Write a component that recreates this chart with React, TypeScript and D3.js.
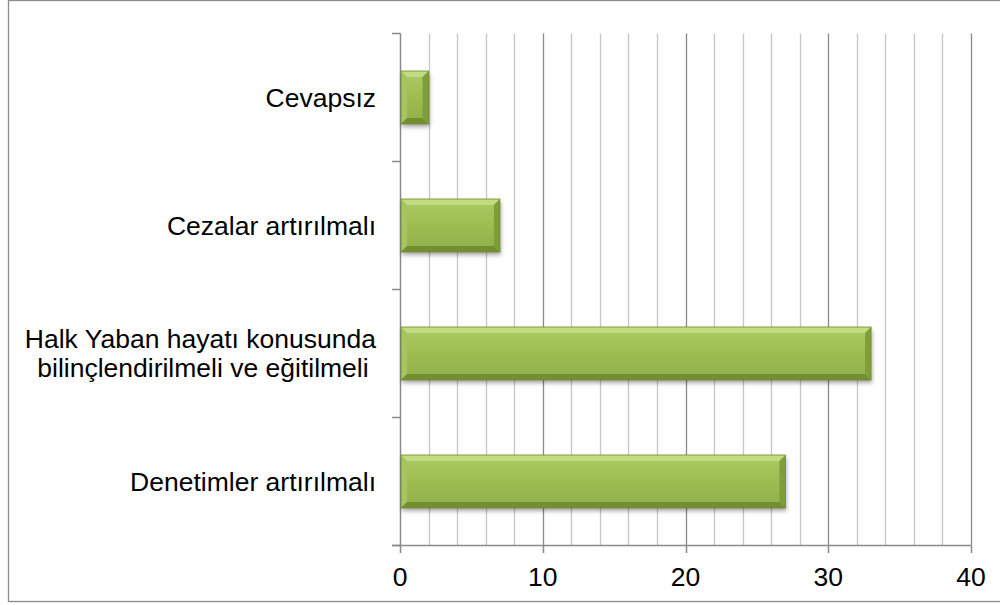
import React from "react";
import * as d3 from "d3";

const categories = [
  "Cevapsız",
  "Cezalar artırılmalı",
  "Halk Yaban hayatı konusunda|bilinçlendirilmeli ve eğitilmeli ",
  "Denetimler artırılmalı",
];
const values = [2, 7, 33, 27];
const xTicks = [0, 10, 20, 30, 40];
const minorTicks = d3.range(2, 41, 2);

export default function App() {
  const W = 1000, H = 605;
  const x = d3.scaleLinear().domain([0, 40]).range([400, 971]);
  const y = d3.scaleBand<string>().domain(categories).range([33.5, 545.5]).paddingInner(0.586).paddingOuter(0.293);
  const band = d3.scaleBand<string>().domain(categories).range([33.5, 545.5]);
  const font = "'Liberation Sans', Arial, sans-serif";
  const b = 6;
  return (
    <svg width={W} height={H} style={{ position: "absolute", left: 0, top: 0 }} fontFamily={font}>
      <defs>
        <linearGradient id="gBar" x1="0" y1="0" x2="0" y2="1">
          <stop offset="0" stopColor="#aacb62" />
          <stop offset="0.5" stopColor="#9dbd52" />
          <stop offset="1" stopColor="#90af48" />
        </linearGradient>
        <filter id="shadow" x="-10%" y="-30%" width="130%" height="180%">
          <feDropShadow dx="1" dy="3" stdDeviation="2.2" floodColor="#000" floodOpacity="0.35" />
        </filter>
      </defs>
      <rect x={0} y={0} width={W} height={H} fill="#fff" />
      <rect x={8.5} y={0.5} width={1010} height={601} fill="none" stroke="#8c8c8c" strokeWidth={1.3} />
      {/* gridlines */}
      {minorTicks.map((t) => (
        <line key={t} x1={Math.round(x(t)) + 0.5} x2={Math.round(x(t)) + 0.5} y1={33.5} y2={545.5}
          stroke={t % 10 === 0 ? "#8a8a8a" : "#c6c6c6"} strokeWidth={1.3} />
      ))}
      {/* y axis */}
      <line x1={400.5} x2={400.5} y1={33.5} y2={545.5} stroke="#8a8a8a" strokeWidth={1.5} />
      {[...categories.map((c) => band(c)!), 545.5].map((v, i) => (
        <line key={i} x1={392} x2={400.5} y1={v} y2={v} stroke="#8a8a8a" strokeWidth={1.5} />
      ))}
      {/* x axis */}
      <line x1={392} x2={971} y1={545.5} y2={545.5} stroke="#8a8a8a" strokeWidth={1.5} />
      {xTicks.map((t) => (
        <g key={t}>
          <line x1={Math.round(x(t)) + 0.5} x2={Math.round(x(t)) + 0.5} y1={545.5} y2={553} stroke="#8a8a8a" strokeWidth={1.5} />
          <text x={x(t)} y={586} textAnchor="middle" fontSize={26.5} fill="#000">{t}</text>
        </g>
      ))}
      {/* bars */}
      {categories.map((c, i) => {
        const x0 = x(0) + 1, x1 = x(values[i]);
        const y0 = y(c)!, y1 = y0 + y.bandwidth();
        return (
          <g key={c}>
            <rect x={x0} y={y0} width={x1 - x0} height={y1 - y0} fill="url(#gBar)" filter="url(#shadow)" />
            <polygon points={`${x0},${y0} ${x1},${y0} ${x1 - b},${y0 + b} ${x0 + b},${y0 + b}`} fill="#c3dc82" />
            <polygon points={`${x0},${y0} ${x0 + b},${y0 + b} ${x0 + b},${y1 - b} ${x0},${y1}`} fill="#a6c55e" />
            <polygon points={`${x1},${y0} ${x1},${y1} ${x1 - b},${y1 - b} ${x1 - b},${y0 + b}`} fill="#7f9e39" />
            <polygon points={`${x0},${y1} ${x0 + b},${y1 - b} ${x1 - b},${y1 - b} ${x1},${y1}`} fill="#748f33" />
            <rect x={x0} y={y0} width={x1 - x0} height={y1 - y0} fill="none" stroke="#6f8a32" strokeWidth={0.8} />
          </g>
        );
      })}
      {/* category labels */}
      {categories.map((c) => {
        const lines = c.split("|");
        const cy = band(c)! + band.bandwidth() / 2;
        const lh = 29;
        return (
          <text key={c} x={376} textAnchor="end" fontSize={26.5} fill="#000" style={{ whiteSpace: "pre" }}>
            {lines.map((l, j) => (
              <tspan key={j} x={376} y={cy + 9 + (j - (lines.length - 1) / 2) * lh}>{l}</tspan>
            ))}
          </text>
        );
      })}
    </svg>
  );
}
